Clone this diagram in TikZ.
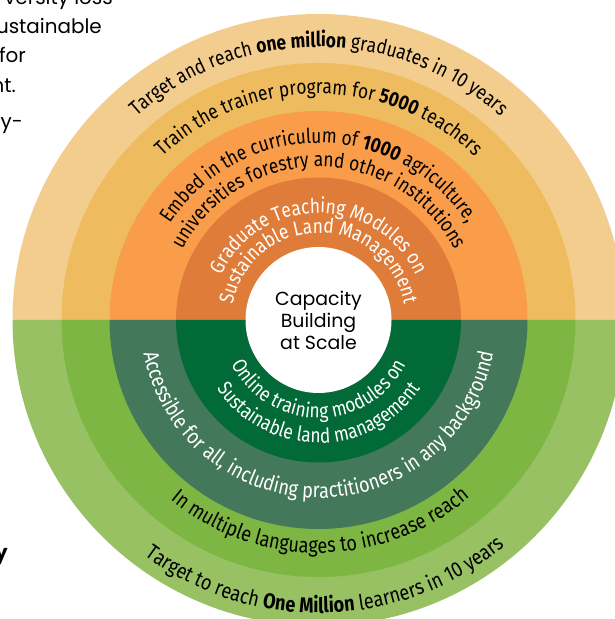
\documentclass[tikz,border=0pt]{standalone}
\usepackage{fontspec}
\setmainfont{Poppins}
\newfontfamily\ringfont[FakeStretch=0.85]{Fira Sans}
\usetikzlibrary{decorations.text}
\definecolor{otop}{HTML}{F3CD8E}
\definecolor{atop}{HTML}{EFBB5F}
\definecolor{btop}{HTML}{F99D4A}
\definecolor{ctop}{HTML}{E07C39}
\definecolor{obot}{HTML}{98C164}
\definecolor{abot}{HTML}{7DB642}
\definecolor{bbot}{HTML}{43785A}
\definecolor{cbot}{HTML}{016A36}
\newcommand\rf{\ringfont\fontsize{20.5}{24}\selectfont}
\newcommand\rfb{\ringfont\bfseries\fontsize{20.5}{24}\selectfont}
\newcommand\rfl{\ringfont\fontsize{21.4}{24}\selectfont}
\newcommand\rflb{\ringfont\bfseries\fontsize{21.4}{24}\selectfont}
\newcommand\toparc[3]{\path[decorate,decoration={text along path,text align=center,text color=#3,text={#2}}] (c) ++(180:#1) arc[start angle=180,end angle=0,radius=#1];}
\newcommand\botarc[4][180]{\path[decorate,decoration={text along path,text align=center,text color=#4,text={#3}}] (c) ++(#1:#2) arc[start angle=#1,delta angle=180,radius=#2];}
\tikzset{para/.style={anchor=base east,inner sep=0pt,font=\fontsize{20}{24}\selectfont}}
\begin{document}
\begin{tikzpicture}[x=1bp,y=1bp]
\useasboundingbox (0,0) rectangle (615,619);
\clip (0,0) rectangle (615,619);
\coordinate (c) at (318.5,299);
\foreach \r/\ct/\cb in {306/otop/obot,257/atop/abot,209/btop/bbot,142.5/ctop/cbot}{
  \fill[\ct] (c) ++(0:\r) arc[start angle=0,end angle=180,radius=\r] -- cycle;
  \fill[\cb] (c) ++(180:\r) arc[start angle=180,end angle=360,radius=\r] -- cycle;
}
\fill[white] (c) circle[radius=73];
\node[align=center,font=\fontsize{19}{22}\selectfont,inner sep=0pt] (centre) at (c) {Capacity\\Building\\at Scale};
% top texts
\toparc{273}{|\rf|Target and reach |\rfb|one million|\rf| graduates in 10 years}{black}
\toparc{226}{|\rf|Train the trainer program for |\rfb|5000|\rf| teachers}{black}
\toparc{177}{|\rf|Embed in the curriculum of |\rfb|1000|\rf| agriculture,}{black}
\toparc{153}{|\rf|universities forestry and other institutions}{black}
\toparc{107}{|\rf|Graduate Teaching Modules on}{white}
\toparc{87}{|\rf|Sustainable Land Management}{white}
% bottom texts
\botarc{98}{|\rf|Online training modules on}{white}
\botarc{123}{|\rf|Sustainable land management}{white}
\botarc{178}{|\rfl|Accessible for all, including practitioners in any background}{white}
\botarc[180.5]{233}{|\rfl|In multiple languages to increase reach}{black}
\botarc[181.5]{293}{|\rfl|Target to reach |\rflb|One Million|\rfl| learners in 10 years}{black}
% clipped paragraph on the left
\node[para] (p1) at (113,614) {versity loss};
\node[para] (p2) at (102,585) {ustainable};
\node[para] (p3) at (26,556) {for};
\node[para] (p4) at (16,526) {nt.};
\node[para] (p5) at (23,490) {ty-};
\node[para,font=\fontsize{20}{24}\selectfont\bfseries] (p6) at (8,59) {y};
\end{tikzpicture}
\end{document}
